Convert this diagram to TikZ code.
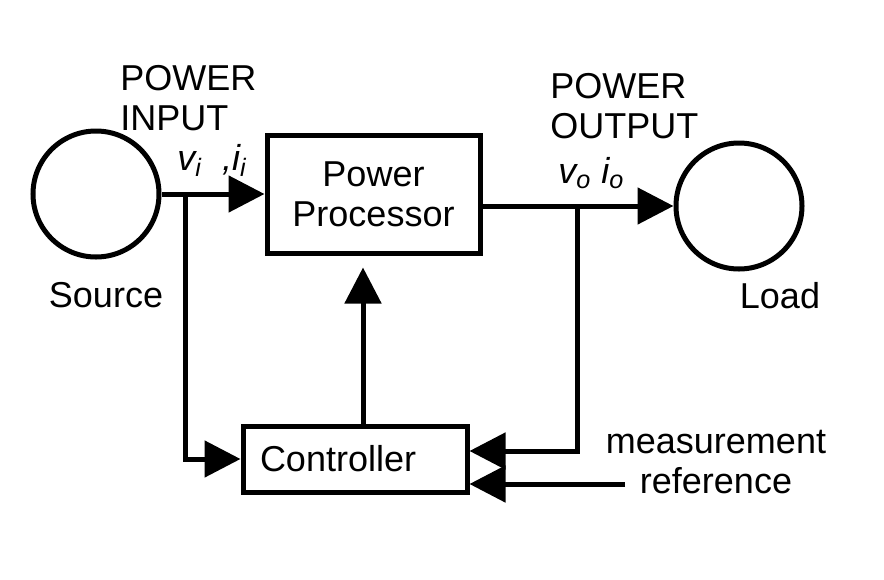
\documentclass[tikz,border=0pt]{standalone}
\usepackage{fontspec}
\setmainfont{Liberation Sans}
\usepackage{tikz}
\usetikzlibrary{arrows.meta,positioning}

\begin{document}
\begin{tikzpicture}[y=-0.5pt,x=0.5pt,
	font=\fontsize{18}{20}\selectfont,
	conn/.style={line width=2.5pt, -{Triangle[length=18pt,width=18pt]}},
	blk/.style={draw, rectangle, line width=2.5pt, inner sep=0pt},
	dev/.style={draw, circle, line width=2.5pt, minimum size=63pt, inner sep=0pt}]
	\useasboundingbox (0,0) rectangle (884,579);

	\node[dev] (src) at (96,194) {};
	\node[dev] (load) at (739,206) {};
	\node[blk, minimum width=106.5pt, minimum height=59pt, align=center] (proc) at (373.5,194) {Power\\Processor};
	\node[blk, minimum width=112pt, minimum height=33pt, text width=95pt, inner xsep=8.5pt, align=left] (ctrl) at (355,459) {Controller};

	\coordinate (tapin) at (185,194);
	\coordinate (tapout) at (577,206);
	\coordinate (up) at (363,0);
	\coordinate (refend) at (625,484);

	\draw[conn] (src.east) -- (src.east -| proc.west);
	\draw[conn] (tapin) |- (ctrl.west);
	\draw[conn] (proc.east |- load.west) -- (load.west);
	\draw[conn] (tapout) |- ([yshift=4pt]ctrl.east);
	\draw[conn] (refend) -- (refend -| ctrl.east);
	\draw[conn, shorten >=6pt] (ctrl.north -| up) -- (proc.south -| up);

	\node[align=left, anchor=base west, inner sep=0pt] (pin) at (120,130) {POWER\\INPUT};
	\node[anchor=base west, inner sep=0pt] (vin) at (177,170) {\textit{v\textsubscript{i}\ \ ,i\textsubscript{i}}};
	\node[align=left, anchor=base west, inner sep=0pt] (pout) at (550,138) {POWER\\OUTPUT};
	\node[anchor=base west, inner sep=0pt] (vout) at (558,183) {\textit{v\textsubscript{o} i\textsubscript{o}}};
	\node[anchor=base, inner sep=0pt] (srclbl) at (106,307) {Source};
	\node[anchor=base, inner sep=0pt] (loadlbl) at (780,308) {Load};
	\node[align=center, anchor=base, inner sep=0pt] (meas) at (716,493) {measurement\\reference};
\end{tikzpicture}
\end{document}
